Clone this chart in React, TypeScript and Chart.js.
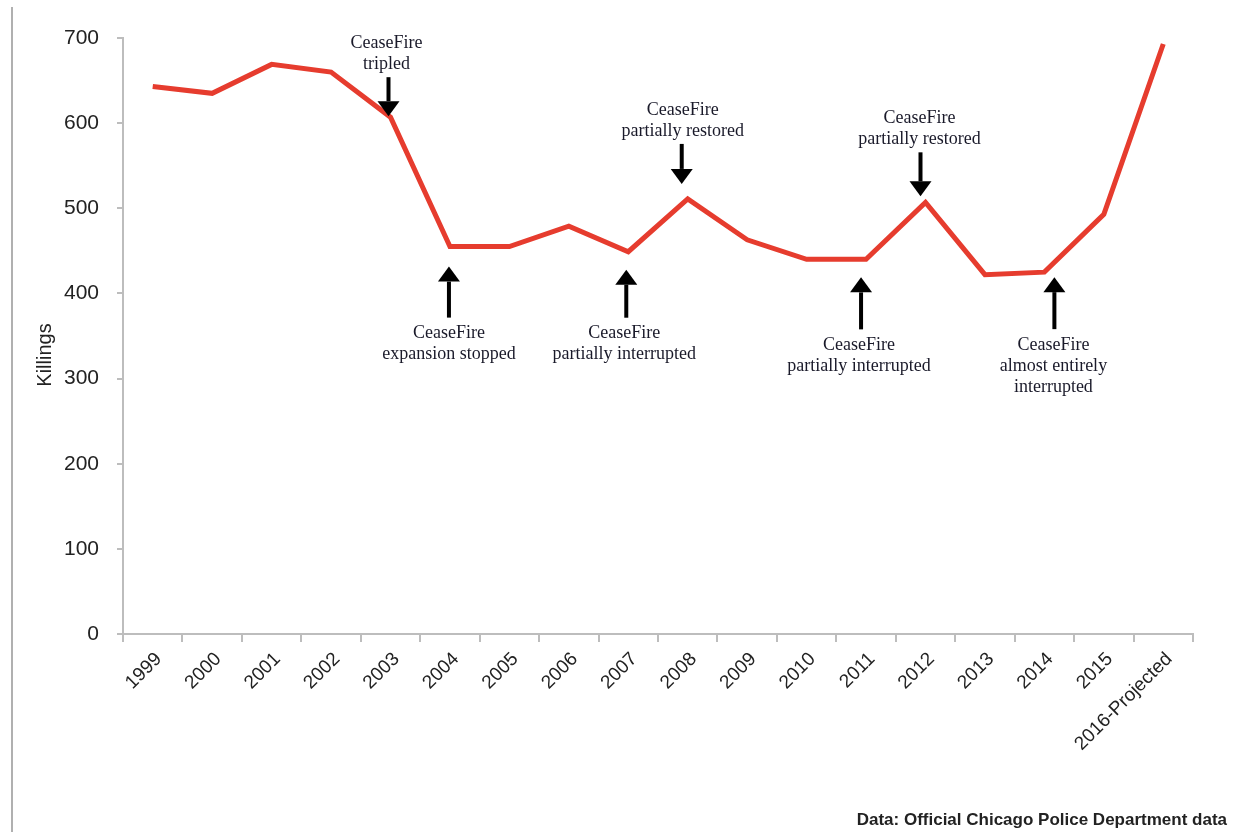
import React, { useEffect, useRef } from "react";
import { Chart, registerables } from "chart.js";

Chart.register(...registerables);

const years: string[] = [
  "1999", "2000", "2001", "2002", "2003", "2004", "2005", "2006", "2007",
  "2008", "2009", "2010", "2011", "2012", "2013", "2014", "2015", "2016-Projected",
];
const killings: number[] = [
  643, 635, 669, 660, 607, 455, 455, 479, 449, 511, 463, 440, 440, 507, 422, 425, 493, 693,
];
const yTicks: number[] = [0, 100, 200, 300, 400, 500, 600, 700];

const noteIndex: number[] = [4, 5, 8, 9, 12, 13, 15];
const noteDir: string[] = ["down", "up", "up", "down", "up", "down", "up"];
const noteText: string[][] = [
  ["CeaseFire", "tripled"],
  ["CeaseFire", "expansion stopped"],
  ["CeaseFire", "partially interrupted"],
  ["CeaseFire", "partially restored"],
  ["CeaseFire", "partially interrupted"],
  ["CeaseFire", "partially restored"],
  ["CeaseFire", "almost entirely", "interrupted"],
];
// arrow placement relative to the data point (pixels)
const noteDx: number[] = [-2, -1, -2, -6, -5, -5, 10];
const noteTipDy: number[] = [-1, 20, 18, -15, 18, -6, 5];
const noteLen: number[] = [39, 51, 48, 40, 52, 44, 52];
const noteTextDx: number[] = [-4, -1, -4, -5, -7, -6, 9];

const sourceText = "Data: Official Chicago Police Department data";

const annotationPlugin = {
  id: "ceasefireNotes",
  afterDatasetsDraw(chart: any) {
    const ctx = chart.ctx;
    const meta = chart.getDatasetMeta(0);
    ctx.save();
    for (let k = 0; k < noteIndex.length; k++) {
      const pt = meta.data[noteIndex[k]];
      const x = pt.x + noteDx[k];
      const tipY = pt.y + noteTipDy[k];
      const down = noteDir[k] === "down";
      const sign = down ? -1 : 1; // direction from tip to tail
      const tailY = tipY + sign * noteLen[k];
      const headH = 15;
      const headW = 22;
      const baseY = tipY + sign * headH;
      ctx.strokeStyle = "#000";
      ctx.fillStyle = "#000";
      ctx.lineWidth = 4;
      ctx.beginPath();
      ctx.moveTo(x, tailY);
      ctx.lineTo(x, baseY);
      ctx.stroke();
      ctx.beginPath();
      ctx.moveTo(x, tipY);
      ctx.lineTo(x - headW / 2, baseY);
      ctx.lineTo(x + headW / 2, baseY);
      ctx.closePath();
      ctx.fill();

      ctx.font = '18px "Liberation Serif"';
      ctx.fillStyle = "#1a1a2a";
      ctx.textAlign = "center";
      ctx.textBaseline = "middle";
      const lines = noteText[k];
      const lh = 21;
      const tx = pt.x + noteTextDx[k];
      for (let j = 0; j < lines.length; j++) {
        let ty: number;
        if (down) {
          ty = tailY - 13 - (lines.length - 1 - j) * lh;
        } else {
          ty = tailY + 16 + j * lh;
        }
        ctx.fillText(lines[j], tx, ty);
      }
    }
    // y axis title
    ctx.save();
    ctx.translate(45, 355);
    ctx.rotate(-Math.PI / 2);
    ctx.font = '20px "Liberation Sans"';
    ctx.fillStyle = "#222";
    ctx.textAlign = "center";
    ctx.textBaseline = "middle";
    ctx.fillText("Killings", 0, 0);
    ctx.restore();
    // source
    ctx.font = 'bold 17px "Liberation Sans"';
    ctx.fillStyle = "#222";
    ctx.textAlign = "right";
    ctx.textBaseline = "middle";
    ctx.fillText(sourceText, 1227, 820);
    // left border line
    ctx.fillStyle = "#b0b0b0";
    ctx.fillRect(11, 7, 2, 832);
    ctx.restore();
  },
};

export default function App() {
  const ref = useRef<HTMLCanvasElement | null>(null);
  useEffect(() => {
    if (!ref.current) return;
    const chart = new Chart(ref.current, {
      type: "line",
      data: {
        labels: years,
        datasets: [
          {
            data: killings,
            borderColor: "#e63c2e",
            borderWidth: 5,
            pointRadius: 0,
            tension: 0,
            fill: false,
          },
        ],
      },
      options: {
        animation: false,
        responsive: false,
        maintainAspectRatio: false,
        layout: { padding: { left: 0, top: 38, right: 55, bottom: 0 } },
        plugins: { legend: { display: false }, tooltip: { enabled: false } },
        scales: {
          x: {
            type: "category",
            offset: true,
            grid: {
              offset: true,
              drawOnChartArea: false,
              drawTicks: true,
              tickLength: 8,
              color: "#bdbdbd",
              lineWidth: 2,
            },
            border: { color: "#bdbdbd", width: 2 },
            ticks: {
              autoSkip: false,
              minRotation: 45,
              maxRotation: 45,
              font: { family: '"Liberation Sans"', size: 19 },
              color: "#222",
              padding: 6,
              labelOffset: 6,
            },
            afterFit: (s: any) => {
              s.height = 198;
            },
          },
          y: {
            min: 0,
            max: 700,
            afterBuildTicks: (s: any) => {
              s.ticks = yTicks.map((v) => ({ value: v }));
            },
            grid: {
              drawOnChartArea: false,
              drawTicks: true,
              tickLength: 6,
              color: "#bdbdbd",
              lineWidth: 2,
            },
            border: { color: "#bdbdbd", width: 2 },
            ticks: { font: { family: '"Liberation Sans"', size: 21 }, color: "#222", padding: 18 },
            afterFit: (s: any) => {
              s.width = 123;
            },
          },
        },
      },
      plugins: [annotationPlugin],
    });
    return () => chart.destroy();
  }, []);
  return (
    <div style={{ position: "fixed", left: 0, top: 0, width: 1248, height: 832, background: "#fff" }}>
      <canvas ref={ref} width={1248} height={832} style={{ display: "block", width: 1248, height: 832 }} />
    </div>
  );
}
